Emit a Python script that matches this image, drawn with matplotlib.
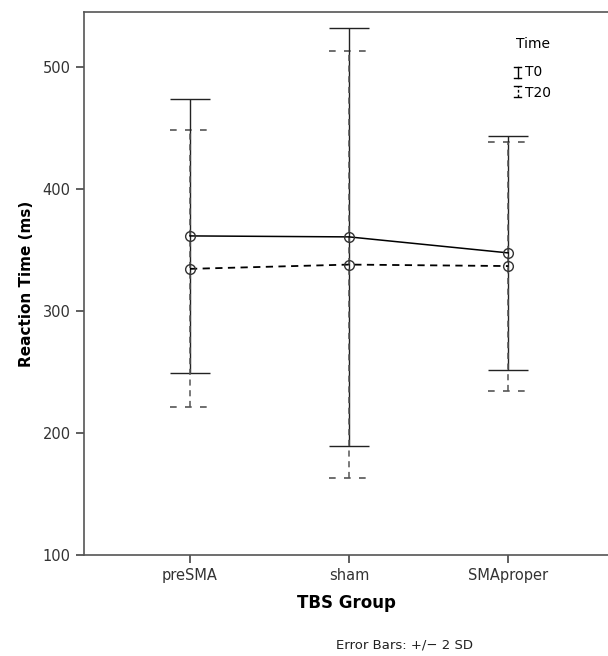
import matplotlib
matplotlib.use("Agg")
import matplotlib.pyplot as plt
import numpy as np

groups = ["preSMA", "sham", "SMAproper"]
t0_mean = [361.5, 360.7, 347.6]
t0_sd = [56.2, 85.5, 48.0]
t20_mean = [334.5, 338.0, 336.8]
t20_sd = [56.7, 87.5, 51.0]
y_ticks = [100, 200, 300, 400, 500]

x = np.arange(1, len(groups) + 1)

fig = plt.figure(figsize=(6.08, 6.56), dpi=100)
ax = fig.add_axes([84 / 608, 101 / 656, 524 / 608, 543 / 656])

# T0: trait plein
ax.errorbar(x, t0_mean, yerr=2 * np.array(t0_sd), color="black", lw=1.1,
            ecolor="#222222", elinewidth=1.0, capsize=14.5, capthick=1.2,
            marker="o", ms=7, mfc="none", mec="#333333", mew=1.0, zorder=3)
# T20: pointillés
eb = ax.errorbar(x, t20_mean, yerr=2 * np.array(t20_sd), color="black", lw=1.3,
                 ls=(0, (4, 3)), ecolor="#555555", elinewidth=1.1, capsize=14.5,
                 capthick=1.2, marker="o", ms=7, mfc="none", mec="#333333",
                 mew=1.0, zorder=3)
for coll in eb[2]:
    coll.set_linestyle((0, (4, 3)))
for cap in eb[1]:
    cap.set_visible(False)
# caps pointillés pour T20
for xi, m, s in zip(x, t20_mean, t20_sd):
    for y in (m + 2 * s, m - 2 * s):
        ax.plot([xi - 0.126, xi + 0.126], [y, y], color="#555555", lw=1.2,
                ls=(0, (4, 5)), zorder=2)

ax.set_xlim(1 - 106 / 159, 1 + 418 / 159)
ax.set_ylim(100, 545)
ax.set_xticks(x, groups)
ax.set_yticks(y_ticks)
ax.tick_params(labelsize=10.5, color="#444444", length=6, width=1.2,
               labelcolor="#333333")
for side in ("left", "bottom", "top"):
    ax.spines[side].set_color("#555555")
    ax.spines[side].set_linewidth(1.2)
ax.spines["right"].set_visible(False)
ax.set_ylabel("Reaction Time (ms)", fontsize=11, fontweight="bold", labelpad=6)
ax.set_xlabel("TBS Group", fontsize=12, fontweight="bold", labelpad=8)

fig.text(405 / 608, 1 - 645 / 656, "Error Bars: +/\u2212 2 SD", fontsize=9.5,
         ha="center", va="center", color="#222222")

# légende manuelle
ax.text(3.05, 519, "Time", fontsize=10, ha="left", va="center")
lx = 3.06
ax.plot([lx, lx], [491, 500], color="black", lw=1.0)
ax.plot([lx - 0.02, lx + 0.02], [500, 500], color="black", lw=1.0)
ax.plot([lx - 0.02, lx + 0.02], [491, 491], color="black", lw=1.0)
ax.text(lx + 0.05, 496, "T0", fontsize=10, ha="left", va="center")
ax.plot([lx, lx], [475, 484], color="black", lw=1.0, ls=(0, (2, 1.5)))
ax.plot([lx - 0.02, lx + 0.02], [484, 484], color="black", lw=1.0)
ax.plot([lx - 0.02, lx + 0.02], [475, 475], color="black", lw=1.0)
ax.text(lx + 0.05, 479, "T20", fontsize=10, ha="left", va="center")

fig.savefig("out.png", dpi=100)
